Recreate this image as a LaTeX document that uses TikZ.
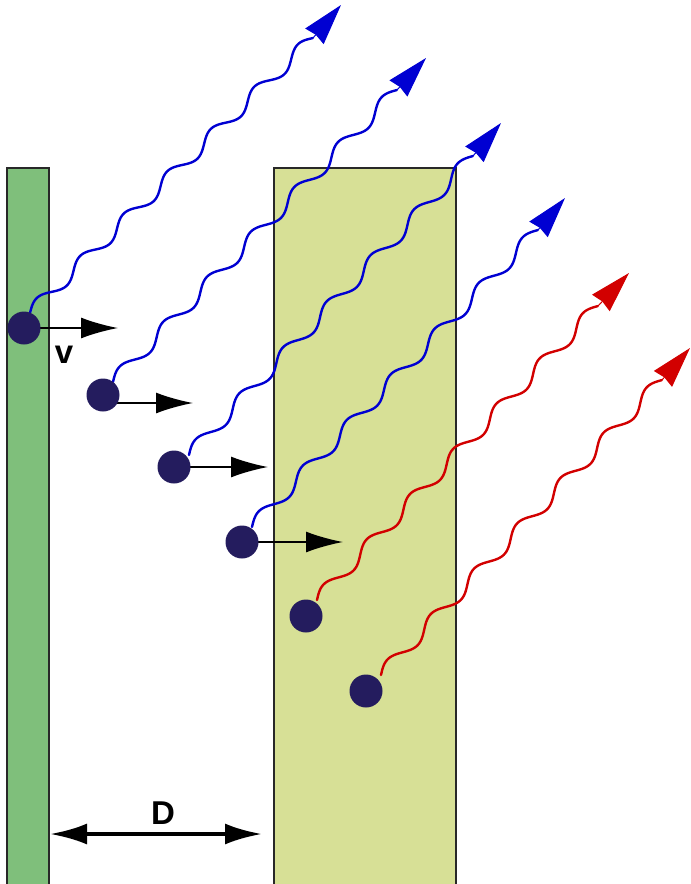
\documentclass[tikz,border=0pt]{standalone}
\usepackage{fontspec}
\setmainfont{Liberation Sans}
\usetikzlibrary{arrows.meta}
\definecolor{barG}{RGB}{127,191,123}
\definecolor{barY}{RGB}{215,224,150}
\definecolor{barEdge}{RGB}{40,40,40}
\definecolor{dotC}{RGB}{36,28,94}
\definecolor{phBlue}{RGB}{0,0,210}
\definecolor{phRed}{RGB}{210,0,0}
\tikzset{
  barbox/.style={draw=barEdge, line width=2pt},
  particle/.style={circle, fill=dotC, minimum size=33pt, inner sep=0pt},
  varrow/.style={line width=1.8pt, -{Latex[length=37pt,width=21pt]}},
  darrow/.style={line width=4pt, {Latex[length=37pt,width=21pt]}-{Latex[length=37pt,width=21pt]}},
  wave/.style={line width=2.4pt, line join=round, line cap=round},
  phhead/.style={line width=1pt, -{Stealth[length=41pt,width=24pt,inset=2pt]}},
  lab/.style={font=\bfseries\fontsize{33}{36}\selectfont, inner sep=0pt}
}
\begin{document}
\begin{tikzpicture}[x=1pt,y=-1pt]
\clip (0,0) rectangle (691,884);
\useasboundingbox (0,0) rectangle (691,884);
% plates
\draw[barbox, fill=barG] (7,168) rectangle (49,900);
\draw[barbox, fill=barY] (274,168) rectangle (456,900);
% velocity arrows
\coordinate (a1s) at (38,328);  \coordinate (a1e) at (118,328);
\coordinate (a2s) at (116,403); \coordinate (a2e) at (193,403);
\coordinate (a3s) at (188,467); \coordinate (a3e) at (268,467);
\coordinate (a4s) at (256,542); \coordinate (a4e) at (343,542);
\foreach \k in {1,2,3,4} { \draw[varrow] (a\k s) -- (a\k e); }
\node[lab] (vlab) at (64,355) {v};
% distance D
\coordinate (dL) at (50,834);
\coordinate (dR) at (262,834);
\draw[darrow] (dL) -- (dR);
\node[lab] (dlab) at (163,813) {D};
% photons
\foreach \i/\sx/\sy/\bx/\by/\tx/\ty/\c in {
  1/30/313/313/38/341/5/phBlue,
  2/113/382/397/90/426/58/phBlue,
  3/189/455/473/156/501/123/phBlue,
  4/252/527/538/230/565/198/phBlue,
  5/317/600/598/306/629/273/phRed,
  6/381/675/662/380/690/348/phRed} {
  \coordinate (s\i) at (\sx,\sy);
  \coordinate (b\i) at (\bx,\by);
  \coordinate (t\i) at (\tx,\ty);
  \pgfmathsetmacro\ddx{\bx-\sx}
  \pgfmathsetmacro\ddy{\sy-\by}
  \pgfmathsetmacro\ang{atan2(\ddy,\ddx)}
  \pgfmathsetmacro\lam{veclen(\ddx,\ddy)/6.5}
  \begin{scope}[shift={(s\i)}, rotate=\ang]
    \draw[wave, \c] plot[domain=0:6.5, samples=260, smooth] ({\x*\lam}, {-6*sin(\x*360)});
  \end{scope}
  \draw[phhead, \c] (b\i) -- (t\i);
}
% particles
\node[particle] (d1) at (24,328) {};
\node[particle] (d2) at (103,395) {};
\node[particle] (d3) at (174,467) {};
\node[particle] (d4) at (242,542) {};
\node[particle] (d5) at (306,616) {};
\node[particle] (d6) at (366,691) {};
\end{tikzpicture}
\end{document}
